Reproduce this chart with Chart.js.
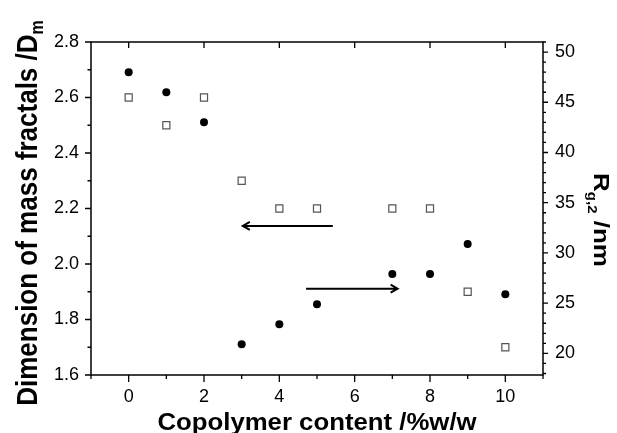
<!DOCTYPE html>
<html>
<head>
<meta charset="utf-8">
<script src="https://cdn.jsdelivr.net/npm/chart.js@4.4.1/dist/chart.umd.min.js"></script>
<style>
  html, body { margin: 0; padding: 0; background: #fff; }
  #wrap { width: 617px; height: 433px; }
</style>
</head>
<body>
<div id="wrap"><canvas id="fractalChart" width="617" height="433"></canvas></div>
<script>
// copolymer content (%w/w)
const content = [0, 1, 2, 3, 4, 5, 7, 8, 9, 10];
// mass fractal dimension Dm (left axis, open squares)
const massFractal = [2.6, 2.5, 2.6, 2.3, 2.2, 2.2, 2.2, 2.2, 1.9, 1.7];
// radius of gyration Rg,2 in nm (right axis, filled circles)
const gyration = [48.0, 46.0, 43.0, 20.9, 22.9, 24.9, 27.9, 27.9, 30.9, 25.9];

// tick labels
const xTicks = [0, 2, 4, 6, 8, 10];
const leftTicks = [1.6, 1.8, 2.0, 2.2, 2.4, 2.6, 2.8];
const rightTicks = [20, 25, 30, 35, 40, 45, 50];

// arrows pointing to the axis each series belongs to (data coordinates)
const arrowLeft = { from: 5.42, to: 3.03, y: 2.137 };
const arrowRight = { from: 4.71, to: 7.14, y: 26.44 };

const FONT = "'Liberation Sans', Arial, sans-serif";

function toPoints(ys) {
    return content.map((x, i) => ({ x: x, y: ys[i] }));
}

// frame, tick marks, arrows and axis titles
const decorations = {
    id: 'decorations',
    afterDraw(chart) {
        const ctx = chart.ctx;
        const a = chart.chartArea;
        const sx = chart.scales.x, sl = chart.scales.yL, sr = chart.scales.yR;
        ctx.save();
        ctx.strokeStyle = '#000';
        ctx.lineWidth = 1.5;
        ctx.strokeRect(a.left, a.top, a.right - a.left, a.bottom - a.top);

        ctx.lineWidth = 1.3;
        ctx.beginPath();
        // bottom + top
        for (let v = -1; v <= 11; v++) {
            const px = sx.getPixelForValue(v);
            const major = v % 2 === 0;
            ctx.moveTo(px, a.bottom);
            ctx.lineTo(px, a.bottom + (major ? 7 : 4));
            if (major) {
                ctx.moveTo(px, a.top);
                ctx.lineTo(px, a.top + 6);
            }
        }
        // left
        for (let k = 16; k <= 28; k++) {
            const py = sl.getPixelForValue(k / 10);
            ctx.moveTo(a.left, py);
            ctx.lineTo(a.left - (k % 2 === 0 ? 6 : 3.5), py);
        }
        // right
        for (let v = 18; v <= 51; v++) {
            const py = sr.getPixelForValue(v);
            ctx.moveTo(a.right, py);
            ctx.lineTo(a.right + (v % 5 === 0 ? 5 : 3), py);
        }
        ctx.stroke();

        // arrows
        ctx.lineWidth = 2;
        drawArrow(ctx, sx.getPixelForValue(arrowLeft.from), sx.getPixelForValue(arrowLeft.to), sl.getPixelForValue(arrowLeft.y));
        drawArrow(ctx, sx.getPixelForValue(arrowRight.from), sx.getPixelForValue(arrowRight.to), sr.getPixelForValue(arrowRight.y));

        ctx.fillStyle = '#000';
        ctx.textBaseline = 'alphabetic';

        // x title
        ctx.save();
        ctx.translate((a.left + a.right) / 2, 430);
        ctx.scale(1.12, 1);
        ctx.font = 'bold 23px ' + FONT;
        ctx.textAlign = 'center';
        ctx.fillText('Copolymer content /%w/w', 0, 0);
        ctx.restore();

        // left title, reads bottom to top
        ctx.save();
        ctx.translate(36.5, 213);
        ctx.rotate(-Math.PI / 2);
        ctx.scale(1, 1.12);
        drawRuns(ctx, [
            { text: 'Dimension of mass fractals /D', size: 26, dy: 0 },
            { text: 'm', size: 16, dy: 6 }
        ]);
        ctx.restore();

        // right title, reads top to bottom
        ctx.save();
        ctx.translate(594, 220);
        ctx.rotate(Math.PI / 2);
        ctx.scale(1, 0.82);
        drawRuns(ctx, [
            { text: 'R', size: 26, dy: 0 },
            { text: 'g,2', size: 15, dy: 7 },
            { text: ' /nm', size: 26, dy: 0 }
        ]);
        ctx.restore();

        ctx.restore();
    }
};

function drawArrow(ctx, x0, x1, y) {
    const dir = x1 > x0 ? 1 : -1;
    ctx.beginPath();
    ctx.moveTo(x0, y);
    ctx.lineTo(x1, y);
    ctx.moveTo(x1 - dir * 7, y - 4);
    ctx.lineTo(x1, y);
    ctx.lineTo(x1 - dir * 7, y + 4);
    ctx.stroke();
}

// text with mixed sizes (subscripts), centred on the origin
function drawRuns(ctx, runs) {
    let total = 0;
    runs.forEach(r => {
        ctx.font = 'bold ' + r.size + 'px ' + FONT;
        r.w = ctx.measureText(r.text).width;
        total += r.w;
    });
    let x = -total / 2;
    ctx.textAlign = 'left';
    runs.forEach(r => {
        ctx.font = 'bold ' + r.size + 'px ' + FONT;
        ctx.fillText(r.text, x, r.dy);
        x += r.w;
    });
}

const tickFont = { family: FONT, size: 18 };
const noGrid = { display: false, drawTicks: false, tickLength: 0 };

new Chart(document.getElementById('fractalChart'), {
    type: 'scatter',
    data: {
        datasets: [
            {
                label: 'Dm',
                data: toPoints(massFractal),
                yAxisID: 'yL',
                pointStyle: 'rect',
                radius: 5,
                backgroundColor: '#fff',
                borderColor: '#555',
                borderWidth: 1.2
            },
            {
                label: 'Rg,2',
                data: toPoints(gyration),
                yAxisID: 'yR',
                pointStyle: 'circle',
                radius: 4,
                backgroundColor: '#000',
                borderColor: '#000',
                borderWidth: 0
            }
        ]
    },
    options: {
        responsive: false,
        animation: false,
        layout: { padding: { top: 42, left: 0, right: 0, bottom: 0 } },
        plugins: { legend: { display: false }, tooltip: { enabled: false } },
        scales: {
            x: {
                type: 'linear',
                position: 'bottom',
                min: -1,
                max: 11,
                afterBuildTicks: s => { s.ticks = xTicks.map(v => ({ value: v })); },
                afterFit: s => { s.height = 58; },
                ticks: { font: tickFont, color: '#000', padding: 11, maxRotation: 0 },
                grid: noGrid,
                border: { display: false }
            },
            yL: {
                type: 'linear',
                position: 'left',
                min: 1.6,
                max: 2.8,
                afterBuildTicks: s => { s.ticks = leftTicks.map(v => ({ value: v })); },
                afterFit: s => { s.width = 91; },
                ticks: { font: tickFont, color: '#000', padding: 12, callback: v => v.toFixed(1) },
                grid: noGrid,
                border: { display: false }
            },
            yR: {
                type: 'linear',
                position: 'right',
                min: 17.85,
                max: 51.0,
                afterBuildTicks: s => { s.ticks = rightTicks.map(v => ({ value: v })); },
                afterFit: s => { s.width = 74; },
                ticks: { font: tickFont, color: '#000', padding: 12 },
                grid: noGrid,
                border: { display: false }
            }
        }
    },
    plugins: [decorations]
});
</script>
</body>
</html>
